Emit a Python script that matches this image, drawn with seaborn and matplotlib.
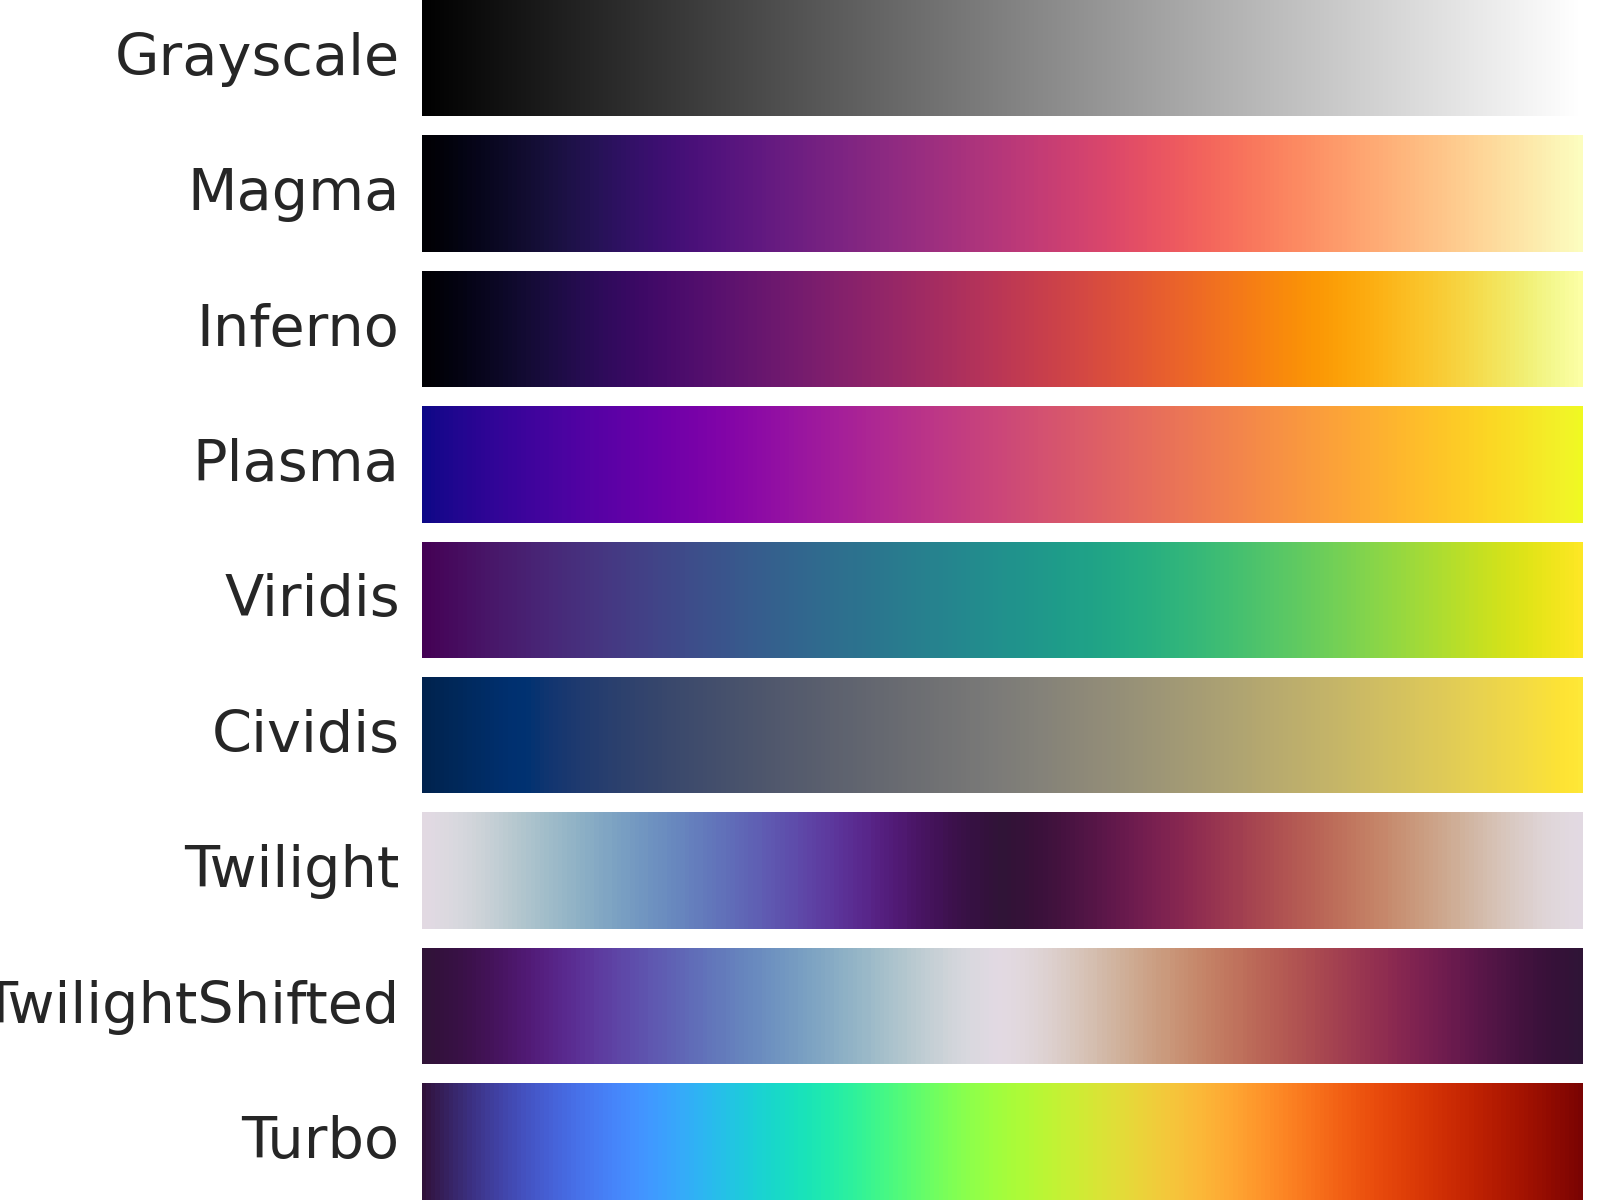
import numpy as np
import matplotlib
matplotlib.use("Agg")
import matplotlib.pyplot as plt
import seaborn as sns

# colour scales shown, top to bottom
labels = ["Grayscale", "Magma", "Inferno", "Plasma", "Viridis",
          "Cividis", "Twilight", "TwilightShifted", "Turbo"]
cmaps = ["gray", "magma", "inferno", "plasma", "viridis",
         "cividis", "twilight", "twilight_shifted", "turbo"]

# 0 -> 1 ramp used to paint each strip
ramp = np.linspace(0, 1, 256)

sns.set_theme(style="white")
plt.rcParams['font.family'] = ['DejaVu Sans']

fig = plt.figure(figsize=(16, 12), dpi=100)

W, H = 1600, 1200
left, right = 421.7, 1582.7
strip_h, step = 116.4, 135.4

for i, (lab, cm) in enumerate(zip(labels, cmaps)):
    top = H - i * step
    ax = fig.add_axes([left / W, (top - strip_h) / H, (right - left) / W, strip_h / H])
    sns.heatmap(ramp[np.newaxis, :], cmap=cm, vmin=0, vmax=1, cbar=False,
                xticklabels=False, yticklabels=False, ax=ax, rasterized=True)
    # label sits to the left of the strip, right-aligned
    ax.text(-22 / (right - left), 0.49, lab, transform=ax.transAxes,
            ha="right", va="center", fontsize=41.3, color="#262626")

fig.savefig("out.png", dpi=100)
